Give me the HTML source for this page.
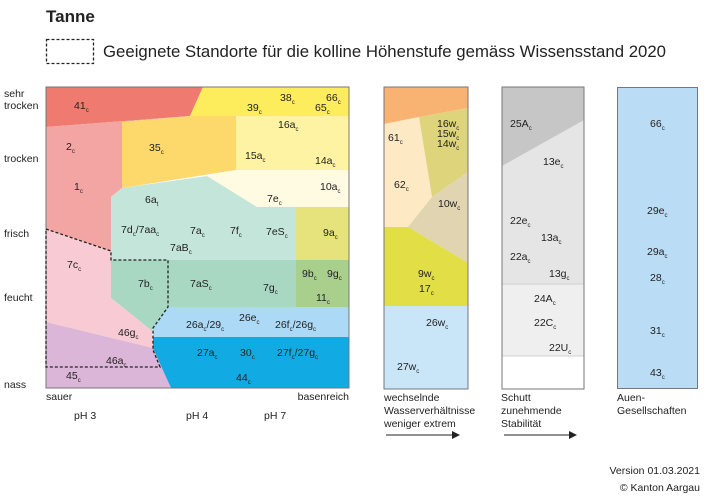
<!DOCTYPE html>
<html><head><meta charset="utf-8"><style>
html,body{margin:0;padding:0;background:#fff;}
svg{display:block;font-family:"Liberation Sans",sans-serif;}
.l{font-size:10.5px;fill:#222;}
.s{font-size:6px;fill:#222;}
.t{font-size:10.5px;fill:#222;}
</style></head><body>
<svg width="705" height="501" viewBox="0 0 705 501" xmlns="http://www.w3.org/2000/svg">
<text x="46" y="22" font-size="17" font-weight="bold" fill="#222">Tanne</text>
<rect x="46.5" y="39.5" width="47" height="24" fill="none" stroke="#222" stroke-width="1.3" stroke-dasharray="3,2"/>
<text x="103" y="57" font-size="16.5" fill="#222" textLength="563" lengthAdjust="spacingAndGlyphs">Geeignete Standorte für die kolline Höhenstufe gemäss Wissensstand 2020</text>

<!-- main chart -->
<g stroke="none">
<polygon points="46,87 203,87 190,116 46,127" fill="#ef7a70"/>
<polygon points="203,87 349,87 349,116 190,116" fill="#fdec5c"/>
<polygon points="46,127 190,116 122,122 122,188 111,197 111,251 46,229" fill="#f3a5a3"/>
<polygon points="122,122 190,116 236,116 236,170 122,188" fill="#fdd96c"/>
<polygon points="236,116 349,116 349,170 236,170" fill="#fef3a3"/>
<polygon points="207,176 236,170 349,170 349,207 257,207" fill="#fffbe2"/>
<polygon points="111,197 122,188 207,176 257,207 296,207 296,260 111,260" fill="#c4e5da"/>
<polygon points="296,207 349,207 349,260 296,260" fill="#e7e37c"/>
<polygon points="111,260 296,260 296,307 168,307 153,328 152,331 111,298" fill="#a9d8c2"/>
<polygon points="296,260 349,260 349,307 296,307" fill="#a9cf8d"/>
<polygon points="168,307 349,307 349,337 153,337 153,328" fill="#acd9f5"/>
<polygon points="153,337 349,337 349,388 171,388 153,350" fill="#12aae2"/>
<polygon points="46,229 111,251 111,298 152,331 153,348 46,322" fill="#f8cbd4"/>
<polygon points="46,322 153,348 171,388 46,388" fill="#dcb6d9"/>
</g>
<rect x="46" y="87" width="303" height="301" fill="none" stroke="#777" stroke-width="1"/>
<polyline points="46,229 111,251 111,260 168,260 168,307 153,328 153,350 160,367 46,367 46,229" fill="none" stroke="#222" stroke-width="1.3" stroke-dasharray="3,2"/>

<g class="l">
<text x="74" y="109">41<tspan class="s" dy="3">c</tspan></text>
<text x="247" y="111">39<tspan class="s" dy="3">c</tspan></text>
<text x="280" y="101">38<tspan class="s" dy="3">c</tspan></text>
<text x="326" y="101">66<tspan class="s" dy="3">c</tspan></text>
<text x="315" y="111">65<tspan class="s" dy="3">c</tspan></text>
<text x="278" y="128">16a<tspan class="s" dy="3">c</tspan></text>
<text x="66" y="150">2<tspan class="s" dy="3">c</tspan></text>
<text x="149" y="151">35<tspan class="s" dy="3">c</tspan></text>
<text x="245" y="159">15a<tspan class="s" dy="3">c</tspan></text>
<text x="315" y="164">14a<tspan class="s" dy="3">c</tspan></text>
<text x="74" y="190">1<tspan class="s" dy="3">c</tspan></text>
<text x="320" y="190">10a<tspan class="s" dy="3">c</tspan></text>
<text x="145" y="203">6a<tspan class="s" dy="3">t</tspan></text>
<text x="267" y="202">7e<tspan class="s" dy="3">c</tspan></text>
<text x="121" y="233">7d<tspan class="s" dy="3">c</tspan><tspan dy="-3">/7aa</tspan><tspan class="s" dy="3">c</tspan></text>
<text x="190" y="234">7a<tspan class="s" dy="3">c</tspan></text>
<text x="230" y="234">7f<tspan class="s" dy="3">c</tspan></text>
<text x="266" y="235">7eS<tspan class="s" dy="3">c</tspan></text>
<text x="323" y="236">9a<tspan class="s" dy="3">c</tspan></text>
<text x="170" y="251">7aB<tspan class="s" dy="3">c</tspan></text>
<text x="67" y="268">7c<tspan class="s" dy="3">c</tspan></text>
<text x="138" y="287">7b<tspan class="s" dy="3">c</tspan></text>
<text x="190" y="287">7aS<tspan class="s" dy="3">c</tspan></text>
<text x="263" y="291">7g<tspan class="s" dy="3">c</tspan></text>
<text x="302" y="277">9b<tspan class="s" dy="3">c</tspan></text>
<text x="327" y="277">9g<tspan class="s" dy="3">c</tspan></text>
<text x="316" y="301">11<tspan class="s" dy="3">c</tspan></text>
<text x="239" y="321">26e<tspan class="s" dy="3">c</tspan></text>
<text x="186" y="328">26a<tspan class="s" dy="3">c</tspan><tspan dy="-3">/29</tspan><tspan class="s" dy="3">c</tspan></text>
<text x="275" y="328">26f<tspan class="s" dy="3">c</tspan><tspan dy="-3">/26g</tspan><tspan class="s" dy="3">c</tspan></text>
<text x="118" y="336">46g<tspan class="s" dy="3">c</tspan></text>
<text x="197" y="356">27a<tspan class="s" dy="3">c</tspan></text>
<text x="240" y="356">30<tspan class="s" dy="3">c</tspan></text>
<text x="277" y="356">27f<tspan class="s" dy="3">c</tspan><tspan dy="-3">/27g</tspan><tspan class="s" dy="3">c</tspan></text>
<text x="106" y="364">46a<tspan class="s" dy="3">c</tspan></text>
<text x="66" y="379">45<tspan class="s" dy="3">c</tspan></text>
<text x="236" y="381">44<tspan class="s" dy="3">c</tspan></text>
</g>

<g class="t">
<text x="4" y="97">sehr</text>
<text x="4" y="109">trocken</text>
<text x="4" y="162">trocken</text>
<text x="4" y="237">frisch</text>
<text x="4" y="301">feucht</text>
<text x="4" y="388">nass</text>
<text x="46" y="400">sauer</text>
<text x="349" y="400" text-anchor="end">basenreich</text>
<text x="74" y="419">pH 3</text>
<text x="186" y="419">pH 4</text>
<text x="264" y="419">pH 7</text>
</g>

<!-- panel 2 -->
<polygon points="384,87 468,87 468,108 419,117 384,124" fill="#f8b272"/>
<polygon points="384,124 419,117 432,197 408,227 384,227" fill="#fde9c3"/>
<polygon points="419,117 468,108 468,172 432,197" fill="#ded47c"/>
<polygon points="432,197 468,172 468,263 408,227" fill="#e1d4b1"/>
<polygon points="384,227 408,227 468,263 468,306 384,306" fill="#e1df45"/>
<rect x="384" y="306" width="84" height="83" fill="#c9e5f8"/>
<rect x="384" y="87" width="84" height="302" fill="none" stroke="#777"/>
<g class="l">
<text x="388" y="141">61<tspan class="s" dy="3">c</tspan></text>
<text x="437" y="127">16w<tspan class="s" dy="3">c</tspan></text>
<text x="437" y="137">15w<tspan class="s" dy="3">c</tspan></text>
<text x="437" y="147">14w<tspan class="s" dy="3">c</tspan></text>
<text x="394" y="188">62<tspan class="s" dy="3">c</tspan></text>
<text x="438" y="207">10w<tspan class="s" dy="3">c</tspan></text>
<text x="418" y="277">9w<tspan class="s" dy="3">c</tspan></text>
<text x="419" y="292">17<tspan class="s" dy="3">c</tspan></text>
<text x="426" y="326">26w<tspan class="s" dy="3">c</tspan></text>
<text x="397" y="370">27w<tspan class="s" dy="3">c</tspan></text>
</g>
<g class="t">
<text x="384" y="401">wechselnde</text>
<text x="384" y="414">Wasserverhältnisse</text>
<text x="384" y="427">weniger  extrem</text>
<text x="501" y="401">Schutt</text>
<text x="501" y="414">zunehmende</text>
<text x="501" y="427">Stabilität</text>
<text x="617" y="401">Auen-</text>
<text x="617" y="414">Gesellschaften</text>
<text x="700" y="474" text-anchor="end">Version 01.03.2021</text>
<text x="700" y="491" text-anchor="end">© Kanton Aargau</text>
</g>
<line x1="386" y1="435" x2="452" y2="435" stroke="#222" stroke-width="1"/>
<polygon points="452,431 460,435 452,439" fill="#222"/>
<line x1="504" y1="435" x2="569" y2="435" stroke="#222" stroke-width="1"/>
<polygon points="569,431 577,435 569,439" fill="#222"/>

<!-- panel 3 -->
<rect x="502" y="87" width="82" height="197" fill="#e5e5e5"/>
<polygon points="502,87 584,87 584,120 502,166" fill="#c6c6c6"/>
<rect x="502" y="284" width="82" height="72" fill="#efefef"/>
<line x1="502" y1="284" x2="584" y2="284" stroke="#d0d0d0"/>
<line x1="502" y1="356" x2="584" y2="356" stroke="#d0d0d0"/>
<rect x="502" y="87" width="82" height="302" fill="none" stroke="#777"/>
<g class="l">
<text x="510" y="127">25A<tspan class="s" dy="3">c</tspan></text>
<text x="543" y="165">13e<tspan class="s" dy="3">c</tspan></text>
<text x="510" y="224">22e<tspan class="s" dy="3">c</tspan></text>
<text x="541" y="241">13a<tspan class="s" dy="3">c</tspan></text>
<text x="510" y="260">22a<tspan class="s" dy="3">c</tspan></text>
<text x="549" y="277">13g<tspan class="s" dy="3">c</tspan></text>
<text x="534" y="302">24A<tspan class="s" dy="3">c</tspan></text>
<text x="534" y="326">22C<tspan class="s" dy="3">c</tspan></text>
<text x="549" y="351">22U<tspan class="s" dy="3">c</tspan></text>
</g>

<!-- panel 4 -->
<rect x="617.5" y="87.5" width="80" height="301" fill="#badcf5" stroke="#777"/>
<g class="l">
<text x="650" y="127">66<tspan class="s" dy="3">c</tspan></text>
<text x="647" y="214">29e<tspan class="s" dy="3">c</tspan></text>
<text x="647" y="255">29a<tspan class="s" dy="3">c</tspan></text>
<text x="650" y="281">28<tspan class="s" dy="3">c</tspan></text>
<text x="650" y="334">31<tspan class="s" dy="3">c</tspan></text>
<text x="650" y="376">43<tspan class="s" dy="3">c</tspan></text>
</g>
</svg>
</body></html>
